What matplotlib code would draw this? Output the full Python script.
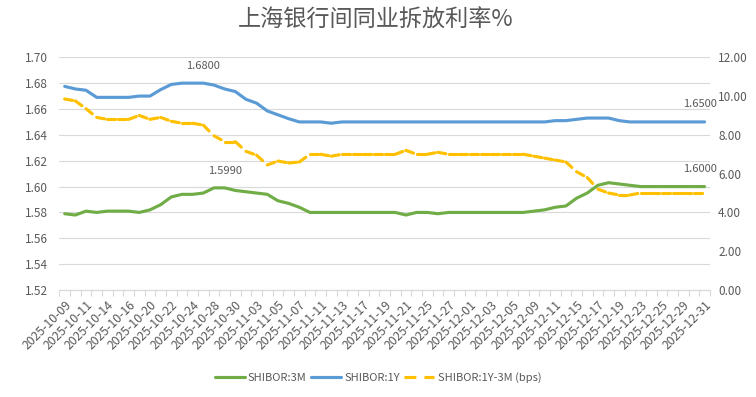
import numpy as np
import matplotlib
matplotlib.use("Agg")
from matplotlib import pyplot as plt
from matplotlib.collections import LineCollection
from matplotlib.lines import Line2D
from matplotlib.ticker import FixedLocator, FormatStrFormatter

plt.rcParams['font.family'] = ['Noto Sans CJK SC', 'DejaVu Sans']

# trading days shown on the category axis
dates = ["2025-10-09", "2025-10-10", "2025-10-11", "2025-10-13", "2025-10-14", "2025-10-15",
         "2025-10-16", "2025-10-17", "2025-10-20", "2025-10-21", "2025-10-22", "2025-10-23",
         "2025-10-24", "2025-10-27", "2025-10-28", "2025-10-29", "2025-10-30", "2025-10-31",
         "2025-11-03", "2025-11-04", "2025-11-05", "2025-11-06", "2025-11-07", "2025-11-10",
         "2025-11-11", "2025-11-12", "2025-11-13", "2025-11-14", "2025-11-17", "2025-11-18",
         "2025-11-19", "2025-11-20", "2025-11-21", "2025-11-24", "2025-11-25", "2025-11-26",
         "2025-11-27", "2025-11-28", "2025-12-01", "2025-12-02", "2025-12-03", "2025-12-04",
         "2025-12-05", "2025-12-08", "2025-12-09", "2025-12-10", "2025-12-11", "2025-12-12",
         "2025-12-15", "2025-12-16", "2025-12-17", "2025-12-18", "2025-12-19", "2025-12-22",
         "2025-12-23", "2025-12-24", "2025-12-25", "2025-12-26", "2025-12-29", "2025-12-30",
         "2025-12-31"]

shibor_3m = [1.579, 1.578, 1.581, 1.580, 1.581, 1.581, 1.581, 1.580, 1.582, 1.586,
             1.592, 1.594, 1.594, 1.595, 1.599, 1.599, 1.597, 1.596, 1.595, 1.594,
             1.589, 1.587, 1.584, 1.580, 1.580, 1.580, 1.580, 1.580, 1.580, 1.580,
             1.580, 1.580, 1.578, 1.580, 1.580, 1.579, 1.580, 1.580, 1.580, 1.580,
             1.580, 1.580, 1.580, 1.580, 1.581, 1.582, 1.584, 1.585, 1.591, 1.595,
             1.601, 1.603, 1.602, 1.601, 1.600, 1.600, 1.600, 1.600, 1.600, 1.600,
             1.600]

shibor_1y = [1.6775, 1.6755, 1.6745, 1.669, 1.669, 1.669, 1.669, 1.670, 1.670, 1.675,
             1.679, 1.680, 1.680, 1.680, 1.6785, 1.6755, 1.6735, 1.6675, 1.6645, 1.6585,
             1.6555, 1.6525, 1.650, 1.650, 1.650, 1.649, 1.650, 1.650, 1.650, 1.650,
             1.650, 1.650, 1.650, 1.650, 1.650, 1.650, 1.650, 1.650, 1.650, 1.650,
             1.650, 1.650, 1.650, 1.650, 1.650, 1.650, 1.651, 1.651, 1.652, 1.653,
             1.653, 1.653, 1.651, 1.650, 1.650, 1.650, 1.650, 1.650, 1.650, 1.650,
             1.650]

spread_bps = [9.85, 9.75, 9.35, 8.9, 8.8, 8.8, 8.8, 9.0, 8.8, 8.9,
              8.7, 8.6, 8.6, 8.5, 7.95, 7.65, 7.65, 7.15, 6.95, 6.45,
              6.65, 6.55, 6.6, 7.0, 7.0, 6.9, 7.0, 7.0, 7.0, 7.0,
              7.0, 7.0, 7.2, 7.0, 7.0, 7.1, 7.0, 7.0, 7.0, 7.0,
              7.0, 7.0, 7.0, 7.0, 6.9, 6.8, 6.7, 6.6, 6.1, 5.8,
              5.2, 5.0, 4.9, 4.9, 5.0, 5.0, 5.0, 5.0, 5.0, 5.0,
              5.0]

text_color = "#595959"
grid_color = "#D9D9D9"
green = "#70AD47"
blue = "#5B9BD5"
yellow = "#FFC000"

fig = plt.figure(figsize=(7.56, 3.97), dpi=100)
ax = fig.add_axes([0.0785, 0.2695, 0.8605, 0.5862])
ax2 = ax.twinx()

x = np.arange(len(dates))

l1, = ax.plot(x, shibor_3m, color=green, lw=2.25, label="SHIBOR:3M", solid_capstyle="round")
l2, = ax.plot(x, shibor_1y, color=blue, lw=2.25, label="SHIBOR:1Y", solid_capstyle="round")

# the dash pattern restarts on every segment (only the steep ones show gaps)
pts = np.column_stack([x, spread_bps])
segs = np.stack([pts[:-1], pts[1:]], axis=1)
lc = LineCollection(segs, colors=yellow, linewidths=2.25, linestyles=[(0, (2.6, 3.0))],
                    capstyle="round")
ax2.add_collection(lc)
l3 = Line2D([], [], color=yellow, lw=2.25, dashes=(3.8, 2.6), label="SHIBOR:1Y-3M (bps)")

ax.set_ylim(1.52, 1.70)
ax.set_yticks(np.arange(1.52, 1.7001, 0.02))
ax.yaxis.set_major_formatter(FormatStrFormatter("%.2f"))
ax2.set_ylim(0, 12)
ax2.set_yticks(np.arange(0, 12.01, 2))
ax2.yaxis.set_major_formatter(FormatStrFormatter("%.2f"))

ax.set_xlim(-0.5, len(dates) - 0.5)
ax.set_xticks(x[::2])
ax.set_xticklabels(dates[::2], rotation=45, ha="right", rotation_mode="anchor")
ax.xaxis.set_minor_locator(FixedLocator(np.arange(-0.5, len(dates), 1)))
ax.tick_params(axis="x", which="major", length=0, pad=6, labelsize=8.8, labelcolor=text_color)
ax.tick_params(axis="x", which="minor", length=4, color=grid_color, width=0.8)
ax.tick_params(axis="y", length=0, pad=8, labelsize=8.5, labelcolor=text_color)
ax2.tick_params(axis="y", length=0, pad=6, labelsize=8.5, labelcolor=text_color)

ax.grid(axis="y", color=grid_color, lw=0.8)
ax.set_axisbelow(True)
for a in (ax, ax2):
    for s in ("top", "left", "right"):
        a.spines[s].set_visible(False)
    a.spines["bottom"].set_color(grid_color)

# data labels
ax.annotate("1.6800", (13, shibor_1y[13]), xytext=(0, 12), textcoords="offset points",
            ha="center", va="center", fontsize=8, color=text_color)
ax.annotate("1.5990", (15, shibor_3m[15]), xytext=(0, 12), textcoords="offset points",
            ha="center", va="center", fontsize=8, color=text_color)
ax.annotate("1.6500", (60, shibor_1y[60]), xytext=(-3, 13), textcoords="offset points",
            ha="center", va="center", fontsize=8, color=text_color)
ax.annotate("1.6000", (60, shibor_3m[60]), xytext=(-3, 13), textcoords="offset points",
            ha="center", va="center", fontsize=8, color=text_color)

fig.text(0.497, 0.948, "上海银行间同业拆放利率%", ha="center", va="center",
         fontsize=16.7, color=text_color, fontweight="light")

fig.legend(handles=[l1, l2, l3], loc="center", bbox_to_anchor=(0.5, 0.048), ncol=3,
           frameon=False, fontsize=8, handlelength=2.7, handletextpad=0.3,
           columnspacing=0.4, labelcolor=text_color)

fig.savefig("out.png", dpi=100)
